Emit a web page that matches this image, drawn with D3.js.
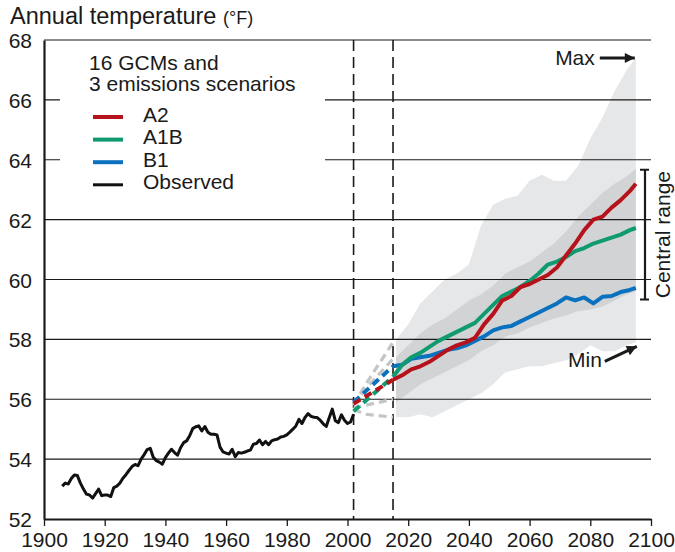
<!DOCTYPE html>
<html>
<head>
<meta charset="utf-8">
<script src="https://cdn.jsdelivr.net/npm/d3@7"></script>
<style>
  body { margin: 0; background: #fff; }
  svg text { font-family: "Liberation Sans", Arial, Helvetica, sans-serif; fill: #1a1a1a; }
</style>
</head>
<body>
<svg id="chart" width="675" height="552"></svg>
<script>
// observed annual mean, 1906-2002
var obsYears = d3.range(1906, 2003);
var obsTemps = [
  53.1, 53.2, 53.17, 53.35, 53.47, 53.45, 53.2, 53.0, 52.83, 52.8,
  52.7, 52.85, 53.0, 52.78, 52.8, 52.8, 52.75, 53.05, 53.1, 53.2,
  53.36, 53.48, 53.62, 53.75, 53.82, 53.78, 54.0, 54.15, 54.32, 54.36,
  54.06, 53.95, 53.9, 53.83, 54.05, 54.2, 54.33, 54.22, 54.13, 54.38,
  54.55, 54.61, 54.78, 55.02, 55.08, 55.11, 54.94, 55.09, 54.9, 54.83,
  54.83, 54.81, 54.4, 54.24, 54.2, 54.17, 54.33, 54.08, 54.22, 54.2,
  54.23, 54.27, 54.3, 54.5, 54.52, 54.64, 54.48, 54.59, 54.48, 54.61,
  54.65, 54.67, 54.74, 54.76, 54.81, 54.9, 55.0, 55.11, 55.33, 55.19,
  55.39, 55.52, 55.43, 55.4, 55.39, 55.3, 55.18, 55.09, 55.39, 55.67,
  55.28, 55.22, 55.48, 55.3, 55.19, 55.24, 55.5
];

// model spread (all GCMs / scenarios)
var bandYears  = [2016, 2020, 2024, 2028, 2032, 2036, 2040, 2044, 2048, 2052, 2056,
                  2060, 2064, 2068, 2072, 2076, 2080, 2084, 2088, 2092, 2095];
var maxTemps   = [58.0, 58.5, 59.2, 59.6, 60.0, 60.2, 60.5, 61.8, 62.5, 62.7, 62.8,
                  63.3, 63.5, 63.3, 63.3, 63.8, 64.7, 65.4, 66.3, 67.0, 67.4];
var upperTemps = [57.4, 57.8, 58.2, 58.5, 58.7, 59.0, 59.3, 59.5, 59.8, 60.2, 60.4,
                  60.6, 60.9, 61.2, 61.6, 62.1, 62.5, 62.9, 63.2, 63.45, 63.7];
var lowerTemps = [55.9, 56.2, 56.5, 56.7, 56.9, 57.1, 57.3, 57.6, 57.8, 58.1, 58.2,
                  58.4, 58.55, 58.7, 58.8, 58.95, 59.0, 59.1, 59.3, 59.5, 59.6];
var minTemps   = [55.4, 55.4, 55.5, 55.4, 55.6, 55.8, 56.0, 56.2, 56.5, 56.9, 57.0,
                  57.1, 57.1, 57.2, 57.3, 57.5, 57.8, 57.6, 57.6, 57.8, 57.9];

// scenario means
var scenYears = [2015, 2018, 2021, 2024, 2027, 2030, 2033, 2036, 2039, 2042, 2045, 2048, 2051, 2054,
                 2057, 2060, 2063, 2066, 2069, 2072, 2075, 2078, 2081, 2084, 2087, 2090, 2093, 2095];
var a2Temps  = [56.65, 56.8, 57.0, 57.1, 57.25, 57.45, 57.65, 57.8, 57.9, 58.05, 58.5, 58.85, 59.3, 59.45,
                59.75, 59.85, 60.0, 60.15, 60.4, 60.8, 61.2, 61.65, 62.0, 62.1, 62.4, 62.65, 62.95, 63.2];
var a1bTemps = [56.75, 57.15, 57.4, 57.55, 57.75, 57.95, 58.1, 58.25, 58.4, 58.55, 58.85, 59.15, 59.45, 59.6,
                59.75, 59.95, 60.2, 60.5, 60.6, 60.75, 60.95, 61.05, 61.2, 61.3, 61.4, 61.5, 61.65, 61.72];
var b1Temps  = [57.1, 57.15, 57.35, 57.4, 57.45, 57.55, 57.65, 57.7, 57.8, 57.95, 58.1, 58.3, 58.4, 58.45,
                58.6, 58.75, 58.9, 59.05, 59.2, 59.4, 59.3, 59.4, 59.2, 59.42, 59.45, 59.58, 59.65, 59.72];

// dashed transition 2002-2015
var dashYears = [2002, 2015];
var a2Dash  = [55.85, 56.65];
var a1bDash = [55.6, 56.75];
var b1Dash  = [55.9, 57.1];
var grayDashYears = [2002, 2006, 2015];
var grayDashes = [
  [55.8, 56.5, 57.9],
  [55.8, 56.35, 57.35],
  [55.7, 55.8, 56.0],
  [55.65, 55.5, 55.4]
];

var periodMarks = [2002, 2015];
var xTicks = d3.range(1900, 2101, 20);
var yTicks = d3.range(52, 69, 2);

var scenarios = [
  {name: 'A2',  color: '#b5121b', temps: a2Temps,  dash: a2Dash},
  {name: 'A1B', color: '#0f9a70', temps: a1bTemps, dash: a1bDash},
  {name: 'B1',  color: '#0a71bf', temps: b1Temps,  dash: b1Dash}
];

var svg = d3.select('#chart');
var x = d3.scaleLinear().domain([1900, 2100]).range([44, 651]);
var y = d3.scaleLinear().domain([52, 68]).range([519, 40]);

var zip = function(years, vals) {
  return years.map(function(yr, i) { return {yr: yr, v: vals[i]}; });
};
var line = d3.line().x(function(d) { return x(d.yr); }).y(function(d) { return y(d.v); });

var band = function(lo, hi) {
  return d3.area()
    .x(function(d, i) { return x(bandYears[i]); })
    .y0(function(d, i) { return y(lo[i]); })
    .y1(function(d, i) { return y(hi[i]); })(bandYears);
};

// shaded ranges
svg.append('path').attr('d', band(minTemps, maxTemps)).attr('fill', '#e6e7e8');
svg.append('path').attr('d', band(lowerTemps, upperTemps)).attr('fill', '#d2d3d5');

// gridlines
svg.append('g')
  .selectAll('line')
  .data(yTicks.filter(function(t) { return t > 52; }))
  .enter()
    .append('line')
    .attr('x1', x(1900)).attr('x2', x(2100))
    .attr('y1', function(t) { return y(t); })
    .attr('y2', function(t) { return y(t); })
    .attr('stroke', '#1a1a1a')
    .attr('stroke-width', 1.2);

// legend background hides the grid
svg.append('rect')
  .attr('x', 60).attr('y', y(68) + 1.5)
  .attr('width', 265).attr('height', 160)
  .attr('fill', '#fff');

// period markers
svg.append('g')
  .selectAll('line')
  .data(periodMarks)
  .enter()
    .append('line')
    .attr('x1', function(d) { return x(d); })
    .attr('x2', function(d) { return x(d); })
    .attr('y1', y(68)).attr('y2', y(52))
    .attr('stroke', '#1a1a1a')
    .attr('stroke-width', 1.6)
    .attr('stroke-dasharray', '11,6');

// observed
svg.append('path')
  .attr('d', line(zip(obsYears, obsTemps)))
  .attr('fill', 'none')
  .attr('stroke', '#111')
  .attr('stroke-width', 3)
  .attr('stroke-linejoin', 'round');

// gray dashed spread
grayDashes.forEach(function(vals) {
  svg.append('path')
    .attr('d', line(zip(grayDashYears, vals)))
    .attr('fill', 'none')
    .attr('stroke', '#c4c5c7')
    .attr('stroke-width', 3.2)
    .attr('stroke-dasharray', '8,5');
});

// scenario dashed + solid
scenarios.slice().reverse().forEach(function(s) {
  svg.append('path')
    .attr('d', line(zip(dashYears, s.dash)))
    .attr('fill', 'none')
    .attr('stroke', s.color)
    .attr('stroke-width', 4)
    .attr('stroke-dasharray', '8,5');
});
scenarios.slice().reverse().forEach(function(s) {
  svg.append('path')
    .attr('d', line(zip(scenYears, s.temps)))
    .attr('fill', 'none')
    .attr('stroke', s.color)
    .attr('stroke-width', 4)
    .attr('stroke-linejoin', 'round');
});

// axes
var xAxis = svg.append('g')
  .attr('transform', 'translate(0,' + y(52) + ')')
  .call(d3.axisBottom(x).tickValues(xTicks).tickFormat(d3.format('d')).tickSize(7).tickSizeOuter(0).tickPadding(6));
xAxis.select('.domain').attr('stroke', '#1a1a1a').attr('stroke-width', 2.2);
xAxis.selectAll('.tick line').attr('stroke', '#1a1a1a').attr('stroke-width', 1.3);
xAxis.selectAll('text').style('font-size', '21px').attr('fill', '#1a1a1a');

var yAxis = svg.append('g')
  .attr('transform', 'translate(' + x(1900) + ',0)')
  .call(d3.axisLeft(y).tickValues(yTicks).tickSize(0).tickSizeOuter(0).tickPadding(12));
yAxis.select('.domain').attr('stroke', '#1a1a1a').attr('stroke-width', 2.2);
yAxis.selectAll('text').style('font-size', '21px').attr('fill', '#1a1a1a').attr('dy', '0.36em');

// title
var title = svg.append('text').attr('x', 10).attr('y', 24).style('font-size', '23.5px');
title.append('tspan').text('Annual temperature ');
title.append('tspan').style('font-size', '18px').text('(°F)');

// legend
svg.append('text').attr('x', 89).attr('y', 70).style('font-size', '21px').text('16 GCMs and');
svg.append('text').attr('x', 89).attr('y', 91).style('font-size', '21px').text('3 emissions scenarios');
var legendItems = scenarios.map(function(s) { return {name: s.name, color: s.color}; })
  .concat([{name: 'Observed', color: '#111'}]);
var lg = svg.append('g')
  .selectAll('g')
  .data(legendItems)
  .enter()
    .append('g')
    .attr('transform', function(d, i) { return 'translate(0,' + (117 + i * 22.6) + ')'; });
lg.append('line')
  .attr('x1', 93).attr('x2', 123)
  .attr('stroke', function(d) { return d.color; })
  .attr('stroke-width', function(d) { return d.name === 'Observed' ? 3 : 4; });
lg.append('text')
  .attr('x', 143).attr('y', 4.5)
  .style('font-size', '21px')
  .text(function(d) { return d.name; });

// arrows
var defs = svg.append('defs');
defs.append('marker')
  .attr('id', 'head')
  .attr('markerUnits', 'userSpaceOnUse')
  .attr('viewBox', '0 0 10 10')
  .attr('refX', 10).attr('refY', 5)
  .attr('markerWidth', 21).attr('markerHeight', 10)
  .attr('orient', 'auto')
  .append('path').attr('d', 'M0,0L10,5L0,10Z').attr('fill', '#1a1a1a');

var endX = x(bandYears[bandYears.length - 1]);
var maxY = y(maxTemps[maxTemps.length - 1]);
var minY = y(minTemps[minTemps.length - 1]);

svg.append('text').attr('x', endX - 41).attr('y', maxY + 7)
  .attr('text-anchor', 'end').style('font-size', '21px').text('Max');
svg.append('line')
  .attr('x1', endX - 36).attr('y1', maxY)
  .attr('x2', endX - 1).attr('y2', maxY)
  .attr('stroke', '#1a1a1a').attr('stroke-width', 3)
  .attr('marker-end', 'url(#head)');

svg.append('text').attr('x', endX - 34).attr('y', minY + 25)
  .attr('text-anchor', 'end').style('font-size', '21px').text('Min');
svg.append('line')
  .attr('x1', endX - 31).attr('y1', minY + 19)
  .attr('x2', endX + 1).attr('y2', minY + 4)
  .attr('stroke', '#1a1a1a').attr('stroke-width', 3)
  .attr('marker-end', 'url(#head)');

// central range bracket
var cTop = y(upperTemps[upperTemps.length - 1]) + 1;
var cBot = y(lowerTemps[lowerTemps.length - 1]) + 8;
var bx = 645;
svg.append('path')
  .attr('d', 'M' + (bx - 5) + ',' + cTop + 'H' + (bx + 4) + 'M' + bx + ',' + cTop + 'V' + cBot +
             'M' + (bx - 5) + ',' + cBot + 'H' + (bx + 4))
  .attr('fill', 'none').attr('stroke', '#1a1a1a').attr('stroke-width', 2.2);
svg.append('text')
  .attr('transform', 'translate(670,' + ((cTop + cBot) / 2) + ') rotate(-90)')
  .attr('text-anchor', 'middle')
  .style('font-size', '21px')
  .text('Central range');
</script>
</body>
</html>
